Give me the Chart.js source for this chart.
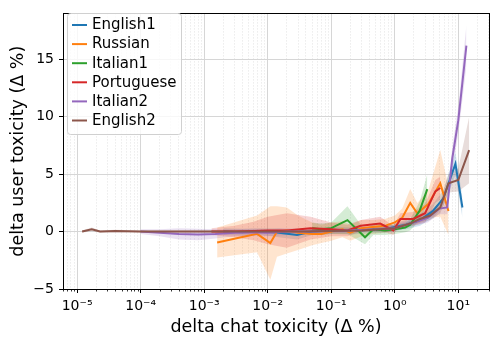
<!DOCTYPE html>
<html>
<head>
<meta charset="utf-8">
<script src="https://cdn.jsdelivr.net/npm/chart.js@4/dist/chart.umd.min.js"></script>
<style>
  html, body { margin: 0; padding: 0; background: #fff; }
</style>
</head>
<body>
<canvas id="c" width="498" height="347"></canvas>
<script>
const seriesNames = ["English1", "Russian", "Italian1", "Portuguese", "Italian2", "English2"];
const seriesColors = ["#1f77b4", "#ff7f0e", "#2ca02c", "#d62728", "#9467bd", "#8c564b"];

// values: x (delta chat toxicity), y (delta user toxicity), band half-width
const english1X = [0.002, 0.004, 0.008, 0.015, 0.029, 0.05, 0.1, 0.2, 0.4, 0.7, 1.0, 1.5, 2.5, 4.0, 5.8, 9.0, 11.6];
const english1Y = [0.0, -0.05, 0.0, -0.1, -0.3, 0.0, 0.1, 0.05, 0.15, 0.2, 0.4, 0.6, 1.0, 1.8, 2.9, 5.9, 2.1];
const english1Err = [0.3, 0.3, 0.3, 0.4, 0.4, 0.3, 0.3, 0.3, 0.3, 0.3, 0.3, 0.4, 0.5, 0.6, 0.7, 1.0, 0.9];

const russianX = [0.0016, 0.0068, 0.011, 0.014, 0.02, 0.03, 0.05, 0.07, 0.1, 0.15, 0.2, 0.3, 0.45, 0.7, 1.0, 1.31, 1.75, 2.26, 3.37, 5.2, 7.0];
const russianY = [-0.95, -0.2, -1.0, 0.0, 0.1, -0.1, -0.2, -0.2, 0.0, 0.2, -0.1, 0.3, 0.4, 0.5, 0.8, 1.2, 2.5, 1.6, 2.4, 4.2, 1.8];
const russianErr = [1.3, 1.6, 3.2, 2.2, 2.0, 1.5, 1.0, 0.8, 0.8, 0.7, 0.7, 0.7, 0.6, 0.6, 0.6, 0.8, 1.2, 0.9, 1.2, 2.9, 2.1];

const italian1X = [0.05, 0.07, 0.1, 0.18, 0.34, 0.46, 0.7, 1.0, 1.46, 1.75, 2.46, 3.25];
const italian1Y = [0.3, 0.2, 0.3, 1.0, -0.5, 0.2, 0.1, 0.2, 0.35, 0.6, 1.8, 3.7];
const italian1Err = [0.5, 0.5, 0.5, 1.2, 0.6, 0.5, 0.4, 0.4, 0.4, 0.5, 0.8, 1.3];

const portugueseX = [0.0013, 0.003, 0.006, 0.01, 0.02, 0.047, 0.1, 0.18, 0.29, 0.59, 0.95, 1.23, 1.95, 3.0, 4.35, 5.2];
const portugueseY = [0.0, 0.0, 0.05, 0.1, 0.1, 0.3, 0.2, 0.1, 0.5, 0.7, 0.1, 1.1, 1.1, 1.6, 3.5, 3.8];
const portugueseErr = [0.3, 0.5, 0.8, 1.2, 1.5, 1.0, 0.6, 0.5, 0.5, 0.6, 0.4, 0.5, 0.6, 0.8, 1.0, 1.0];

const italian2X = [1e-4, 2e-4, 4e-4, 8e-4, 0.0015, 0.003, 0.006, 0.01, 0.02, 0.05, 0.1, 0.2, 0.5, 1.0, 2.0, 3.3, 5.0, 6.7, 8.0, 10.0, 13.4];
const italian2Y = [0.0, -0.1, -0.2, -0.25, -0.2, -0.1, -0.05, -0.1, 0.0, 0.0, 0.05, 0.1, 0.2, 0.3, 0.8, 1.2, 2.0, 2.1, 6.3, 9.7, 16.2];
const italian2Err = [0.2, 0.3, 0.5, 0.5, 0.4, 0.3, 0.3, 0.3, 0.3, 0.2, 0.2, 0.2, 0.2, 0.3, 0.3, 0.4, 0.5, 0.6, 1.0, 1.2, 1.8];

const english2X = [1.2e-5, 1.7e-5, 2.3e-5, 4e-5, 1e-4, 3e-4, 1e-3, 3e-3, 0.01, 0.03, 0.1, 0.3, 1.0, 1.75, 2.5, 3.6, 5.2, 7.0, 10.0, 14.8];
const english2Y = [0.0, 0.2, 0.0, 0.05, 0.0, 0.0, 0.0, 0.0, 0.0, 0.0, 0.05, 0.1, 0.3, 0.7, 1.1, 1.4, 2.1, 4.2, 4.5, 7.1];
const english2Err = [0.1, 0.15, 0.1, 0.1, 0.1, 0.1, 0.1, 0.1, 0.1, 0.1, 0.1, 0.1, 0.15, 0.2, 0.3, 0.4, 0.5, 0.8, 1.0, 2.9];

const xMajorTicks = [1e-5, 1e-4, 1e-3, 1e-2, 1e-1, 1, 10];
const xTickLabels = ["10⁻⁵", "10⁻⁴", "10⁻³", "10⁻²", "10⁻¹", "10⁰", "10¹"];
const yTicks = [-5, 0, 5, 10, 15];
const yTickLabels = ["−5", "0", "5", "10", "15"];

const X_MIN = 6.0e-6, X_MAX = 30.4;
const Y_MIN = -5, Y_MAX = 19.0;
const FONT = "'DejaVu Sans', sans-serif";

const allSeries = [
  [english1X, english1Y, english1Err],
  [russianX, russianY, russianErr],
  [italian1X, italian1Y, italian1Err],
  [portugueseX, portugueseY, portugueseErr],
  [italian2X, italian2Y, italian2Err],
  [english2X, english2Y, english2Err]
];

function rgba(hex, a) {
  const n = parseInt(hex.slice(1), 16);
  return `rgba(${n >> 16}, ${(n >> 8) & 255}, ${n & 255}, ${a})`;
}

// minor log ticks (2..9 per decade) plus the majors
const xAllTicks = [];
for (let e = -6; e <= 1; e++) {
  for (let m = 1; m <= 9; m++) {
    const v = m * Math.pow(10, e);
    if (v >= X_MIN && v <= X_MAX) xAllTicks.push({ value: v, major: m === 1 });
  }
}

const datasets = [];
allSeries.forEach(([xs, ys, errs], i) => {
  const col = seriesColors[i];
  datasets.push({
    label: seriesNames[i] + " lo",
    data: xs.map((x, j) => ({ x, y: ys[j] - errs[j] })),
    borderWidth: 0, pointRadius: 0, fill: false, order: 100 - i,
    borderColor: "rgba(0,0,0,0)"
  });
  datasets.push({
    label: seriesNames[i] + " hi",
    data: xs.map((x, j) => ({ x, y: ys[j] + errs[j] })),
    borderWidth: 0, pointRadius: 0, fill: "-1", order: 100 - i,
    borderColor: "rgba(0,0,0,0)",
    backgroundColor: rgba(col, 0.2)
  });
  datasets.push({
    label: seriesNames[i],
    data: xs.map((x, j) => ({ x, y: ys[j] })),
    borderColor: col, borderWidth: 2, pointRadius: 0, fill: false,
    tension: 0, order: 10 - i
  });
});

const isMajor = v => xMajorTicks.some(m => Math.abs(v / m - 1) < 1e-6);

const frameAndLegend = {
  id: "frameAndLegend",
  afterDraw(chart) {
    const { ctx, chartArea: a } = chart;
    const xs = chart.scales.x;
    ctx.save();
    // minor ticks under the x axis
    ctx.strokeStyle = "#000";
    ctx.lineWidth = 0.8;
    xAllTicks.forEach(t => {
      if (t.major) return;
      const px = Math.round(xs.getPixelForValue(t.value)) + 0.5;
      ctx.beginPath();
      ctx.moveTo(px, a.bottom);
      ctx.lineTo(px, a.bottom + 2.5);
      ctx.stroke();
    });
    // frame
    ctx.lineWidth = 1;
    ctx.strokeRect(Math.round(a.left) + 0.5, Math.round(a.top) + 0.5,
      Math.round(a.right - a.left), Math.round(a.bottom - a.top));

    // legend
    const bx = 67.5, by = 13.5, bw = 114, bh = 121, r = 3;
    ctx.beginPath();
    ctx.moveTo(bx + r, by);
    ctx.arcTo(bx + bw, by, bx + bw, by + bh, r);
    ctx.arcTo(bx + bw, by + bh, bx, by + bh, r);
    ctx.arcTo(bx, by + bh, bx, by, r);
    ctx.arcTo(bx, by, bx + bw, by, r);
    ctx.closePath();
    ctx.fillStyle = "rgba(255,255,255,0.8)";
    ctx.fill();
    ctx.strokeStyle = "#d0d0d0";
    ctx.stroke();

    ctx.font = "15px " + FONT;
    ctx.textBaseline = "middle";
    ctx.textAlign = "left";
    seriesNames.forEach((name, i) => {
      const y = 25 + i * 19.1;
      ctx.strokeStyle = seriesColors[i];
      ctx.lineWidth = 2;
      ctx.beginPath();
      ctx.moveTo(72, y);
      ctx.lineTo(87, y);
      ctx.stroke();
      ctx.fillStyle = "#000";
      ctx.fillText(name, 92, y + 0.5);
    });
    ctx.restore();
  }
};

new Chart(document.getElementById("c").getContext("2d"), {
  type: "line",
  data: { datasets },
  plugins: [frameAndLegend],
  options: {
    responsive: false,
    animation: false,
    devicePixelRatio: 1,
    layout: { padding: { top: 9, right: 9, left: 0, bottom: 0 } },
    plugins: {
      legend: { display: false },
      tooltip: { enabled: false },
      filler: { propagate: false }
    },
    scales: {
      x: {
        type: "logarithmic",
        min: X_MIN,
        max: X_MAX,
        afterBuildTicks: s => { s.ticks = xAllTicks.map(t => ({ value: t.value, major: t.major })); },
        afterFit: s => { s.height = 58; },
        grid: {
          color: c => (c.tick && isMajor(c.tick.value)) ? "#d6d6d6" : "#dadada",
          lineWidth: c => (c.tick && isMajor(c.tick.value)) ? 1 : 0.8,
          tickColor: c => (c.tick && isMajor(c.tick.value)) ? "#000" : "rgba(0,0,0,0)",
          tickLength: 4,
          tickBorderDash: []
        },
        border: {
          display: true, color: "#000", width: 1,
          dash: c => (c.tick && !isMajor(c.tick.value)) ? [1, 2] : []
        },
        ticks: {
          autoSkip: false, maxRotation: 0, padding: 5,
          color: "#000",
          font: { family: FONT, size: 14 },
          callback: v => {
            const k = xMajorTicks.findIndex(m => Math.abs(v / m - 1) < 1e-6);
            return k >= 0 ? xTickLabels[k] : "";
          }
        },
        title: {
          display: true, text: "delta chat toxicity (Δ %)", color: "#000",
          font: { family: FONT, size: 17.5 }, padding: { top: 0, bottom: 9 }
        }
      },
      y: {
        type: "linear",
        min: Y_MIN,
        max: Y_MAX,
        afterBuildTicks: s => { s.ticks = yTicks.map(v => ({ value: v })); },
        afterFit: s => { s.width = 63; },
        grid: { color: "#d6d6d6", lineWidth: 1, tickColor: "#000", tickLength: 4 },
        border: { display: true, color: "#000", width: 1 },
        ticks: {
          padding: 5, color: "#000",
          font: { family: FONT, size: 14 },
          callback: (v, i) => yTickLabels[i]
        },
        title: {
          display: true, text: "delta user toxicity (Δ %)", color: "#000",
          font: { family: FONT, size: 17.5 }, padding: { top: 8, bottom: 0 }
        }
      }
    }
  }
});
</script>
</body>
</html>
